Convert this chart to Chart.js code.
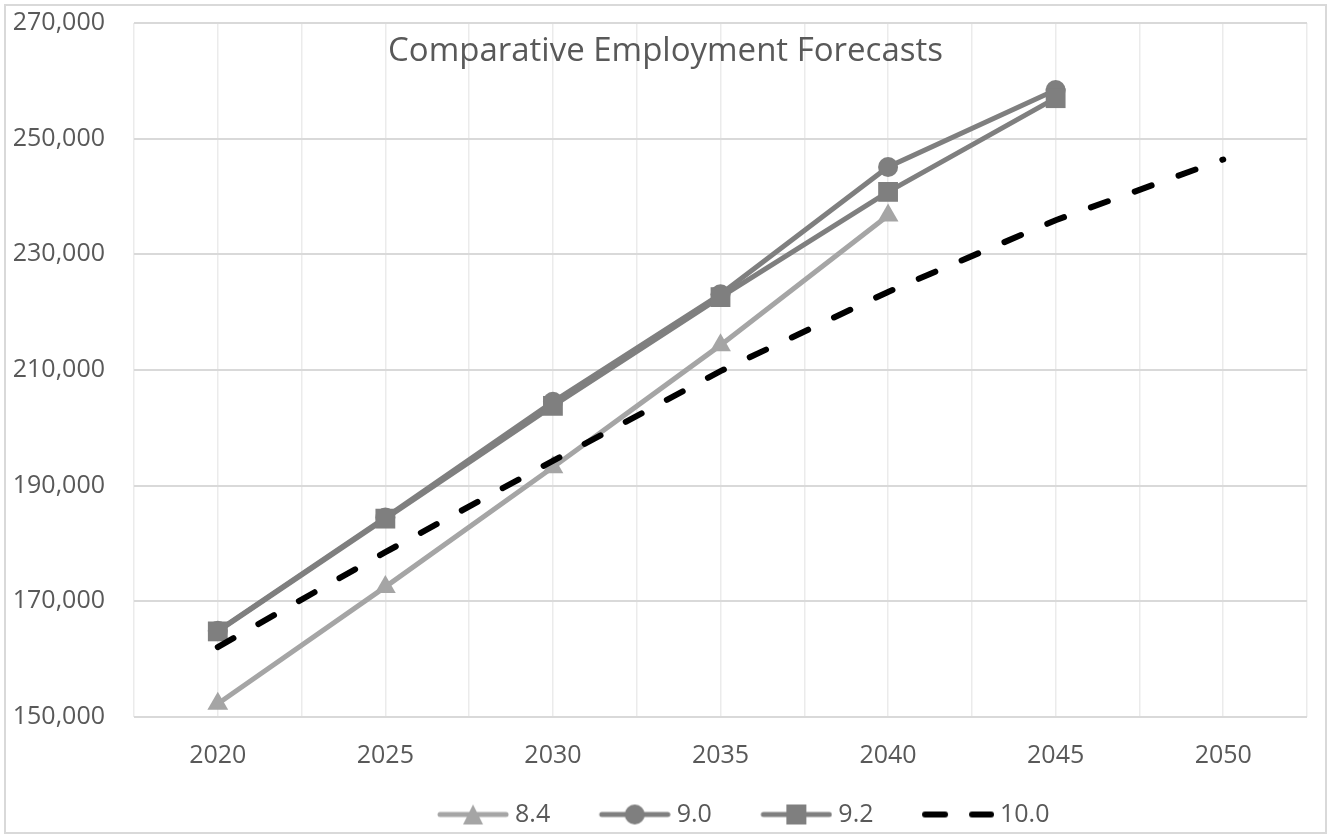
<!DOCTYPE html>
<html>
<head>
<meta charset="utf-8">
<title>Comparative Employment Forecasts</title>
<script src="https://cdn.jsdelivr.net/npm/chart.js@4"></script>
<style>
  html, body { margin: 0; padding: 0; background: #fff; }
  #chart { display: block; }
</style>
</head>
<body>
<canvas id="chart" width="1331" height="834"></canvas>
<script>
// Chart data
const chartTitle = "Comparative Employment Forecasts";
const years = [2020, 2025, 2030, 2035, 2040, 2045, 2050];
const seriesNames = ["8.4", "9.0", "9.2", "10.0"];
const jobs84 = [152300, 172500, 193200, 214300, 236700];
const jobs90 = [164900, 184500, 204500, 223100, 245100, 258400];
const jobs92 = [164800, 184300, 203800, 222600, 240800, 257000];
const jobs100 = [162100, 178500, 194300, 209800, 223500, 235900, 246400];
const yTicks = [150000, 170000, 190000, 210000, 230000, 250000, 270000];

const textColor = "#595959";
const fontFamily = "'Open Sans', 'Noto Sans', sans-serif";

function toPoints(values) {
    return values.map((v, i) => ({ x: years[i], y: v }));
}

// legend icon: line with the marker in the middle, like the spreadsheet legend.
// canvas is wider than the drawing so the icon sits right next to its text
const ICON_W = 114;
function legendIcon(color, marker, dashed) {
    const c = document.createElement('canvas');
    c.width = ICON_W; c.height = 24;
    const g = c.getContext('2d');
    const x0 = ICON_W - 72, mid = ICON_W - 36;
    g.strokeStyle = color;
    g.fillStyle = color;
    g.lineCap = 'round';
    g.lineWidth = dashed ? 6 : 5;
    if (dashed) g.setLineDash([20, 27]);
    g.beginPath();
    g.moveTo(x0 + 3, 12);
    g.lineTo(ICON_W - 3, 12);
    g.stroke();
    g.setLineDash([]);
    if (marker === 'triangle') {
        g.beginPath();
        g.moveTo(mid, 2); g.lineTo(mid + 10, 22); g.lineTo(mid - 10, 22);
        g.closePath(); g.fill();
    } else if (marker === 'circle') {
        g.beginPath();
        g.arc(mid, 12, 10, 0, Math.PI * 2);
        g.fill();
    } else if (marker === 'rect') {
        g.fillRect(mid - 10, 2, 20, 20);
    }
    return c;
}

const icons = [
    legendIcon('#A5A5A5', 'triangle', false),
    legendIcon('#7F7F7F', 'circle', false),
    legendIcon('#7F7F7F', 'rect', false),
    legendIcon('#000000', null, true)
];

// frame + white background
const framePlugin = {
    id: 'frame',
    beforeDraw(chart) {
        const ctx = chart.ctx;
        ctx.save();
        ctx.fillStyle = '#fff';
        ctx.fillRect(0, 0, chart.width, chart.height);
        ctx.strokeStyle = '#D9D9D9';
        ctx.lineWidth = 2;
        ctx.strokeRect(5, 5, chart.width - 10, chart.height - 6);
        ctx.restore();
    },
    // legend in the reference is pushed right of the canvas centre
    afterLayout(chart) {
        if (chart.legend) {
            chart.legend.left += 72;
            chart.legend.right += 72;
        }
    }
};

// title sits inside the plot area
const innerTitle = {
    id: 'innerTitle',
    beforeDatasetsDraw(chart) {
        const ctx = chart.ctx;
        ctx.save();
        ctx.font = "33px " + fontFamily;
        ctx.fillStyle = textColor;
        ctx.textAlign = 'center';
        ctx.textBaseline = 'middle';
        ctx.fillText(chartTitle, chart.width / 2, 52);
        ctx.restore();
    }
};

const ctx = document.getElementById('chart').getContext('2d');
new Chart(ctx, {
    type: 'line',
    data: {
        datasets: [
            {
                label: seriesNames[0],
                data: toPoints(jobs84),
                borderColor: '#A5A5A5',
                backgroundColor: '#A5A5A5',
                borderWidth: 5,
                pointStyle: 'triangle',
                pointRadius: 12,
                pointBorderWidth: 0,
                order: 4
            },
            {
                label: seriesNames[1],
                data: toPoints(jobs90),
                borderColor: '#7F7F7F',
                backgroundColor: '#7F7F7F',
                borderWidth: 5,
                pointStyle: 'circle',
                pointRadius: 10,
                pointBorderWidth: 0,
                order: 3
            },
            {
                label: seriesNames[2],
                data: toPoints(jobs92),
                borderColor: '#7F7F7F',
                backgroundColor: '#7F7F7F',
                borderWidth: 5,
                pointStyle: 'rect',
                pointRadius: 14,
                pointBorderWidth: 0,
                order: 2
            },
            {
                label: seriesNames[3],
                data: toPoints(jobs100),
                borderColor: '#000000',
                backgroundColor: '#000000',
                borderWidth: 6,
                borderDash: [18, 28.6],
                borderCapStyle: 'round',
                pointRadius: 0,
                order: 1
            }
        ]
    },
    options: {
        responsive: false,
        animation: false,
        devicePixelRatio: 1,
        layout: { padding: { top: 23, right: 24, left: 0, bottom: -3 } },
        scales: {
            x: {
                type: 'linear',
                min: 2017.5,
                max: 2052.5,
                border: { display: false },
                grid: { color: '#EBEBEB', lineWidth: 1.5, drawTicks: false },
                afterFit(scale) {
                    scale.height = 72;
                    scale.paddingLeft = 0;
                    scale.paddingRight = 0;
                },
                ticks: {
                    stepSize: 2.5,
                    autoSkip: false,
                    maxRotation: 0,
                    padding: 24,
                    color: textColor,
                    font: { family: fontFamily, size: 25 },
                    callback: (v) => (v % 5 === 0 ? String(v) : '')
                }
            },
            y: {
                min: yTicks[0],
                max: yTicks[yTicks.length - 1],
                border: { display: false },
                grid: { color: '#D9D9D9', lineWidth: 2, drawTicks: false },
                afterFit(scale) {
                    scale.width = 134;
                    scale.paddingTop = 0;
                    scale.paddingBottom = 0;
                },
                afterBuildTicks(scale) { scale.ticks = yTicks.map(v => ({ value: v })); },
                ticks: {
                    padding: 29,
                    color: textColor,
                    font: { family: fontFamily, size: 25 },
                    callback: (v) => v.toLocaleString('en-US')
                }
            }
        },
        plugins: {
            title: { display: false },
            tooltip: { enabled: false },
            legend: {
                position: 'bottom',
                labels: {
                    usePointStyle: true,
                    pointStyleWidth: 101,
                    padding: 13,
                    color: textColor,
                    font: { family: fontFamily, size: 25 },
                    generateLabels(chart) {
                        const items = Chart.defaults.plugins.legend.labels.generateLabels(chart);
                        items.sort((a, b) => a.datasetIndex - b.datasetIndex);
                        items.forEach((it) => { it.pointStyle = icons[it.datasetIndex]; });
                        return items;
                    }
                }
            }
        }
    },
    plugins: [framePlugin, innerTitle]
});
</script>
</body>
</html>
